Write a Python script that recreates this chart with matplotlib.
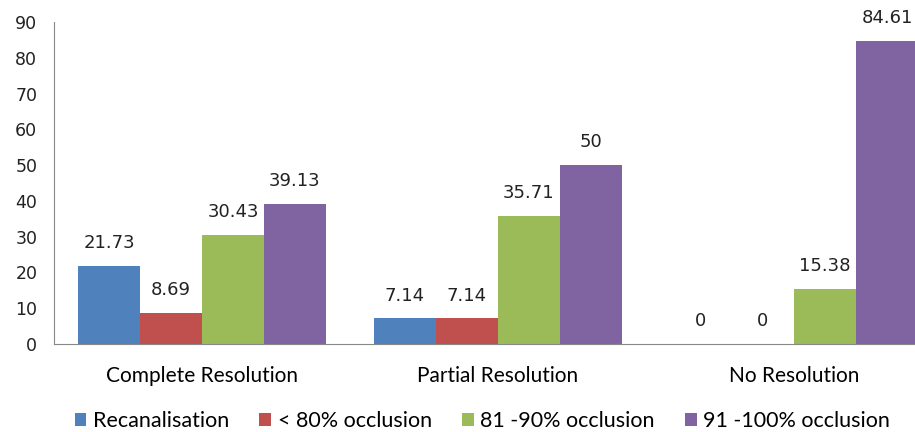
import matplotlib
matplotlib.use("Agg")
import matplotlib.pyplot as plt
import numpy as np

categories = ["Complete Resolution", "Partial Resolution", "No Resolution"]
series_names = ["Recanalisation", "< 80% occlusion", "81 -90% occlusion", "91 -100% occlusion"]
recanalisation = [21.73, 7.14, 0]
below_80 = [8.69, 7.14, 0]
occl_81_90 = [30.43, 35.71, 15.38]
occl_91_100 = [39.13, 50, 84.61]
colors = ["#4F81BD", "#C0504D", "#9BBB59", "#8064A2"]

series = [recanalisation, below_80, occl_81_90, occl_91_100]

fig = plt.figure(figsize=(9.15, 4.32), dpi=100)
# axes reaches past the right edge, as in the cropped original
ax = fig.add_axes([54 / 915, 1 - 344 / 432, 888 / 915, 322 / 432])

x = np.arange(len(categories))
width = 248 / 296 / 4
for i, (vals, name, c) in enumerate(zip(series, series_names, colors)):
    pos = x - 1.5 * width + i * width
    bars = ax.bar(pos, vals, width, color=c, label=name)
    labels = ["%g" % v for v in vals]
    ax.bar_label(bars, labels=labels, padding=10, fontsize=13,
                 family="DejaVu Sans", color="#222222")

ax.set_xlim(-0.5, 2.5)
ax.set_ylim(0, 90)
ax.set_yticks(range(0, 91, 10))
ax.set_xticks(x)
ax.set_xticklabels(categories, family="Lato", fontsize=15)
ax.tick_params(axis="x", length=0, pad=16)
ax.tick_params(axis="y", length=0, pad=12, labelsize=12.5, labelcolor="#222222")

for s in ["top", "right"]:
    ax.spines[s].set_visible(False)
ax.spines["left"].set_color("#888888")
ax.spines["bottom"].set_color("#888888")

fig.legend(loc="lower center", bbox_to_anchor=(0.527, -0.043), ncol=4,
           frameon=False, prop={"family": "Lato", "size": 15.5},
           handlelength=0.55, handleheight=0.55, handletextpad=0.3,
           columnspacing=1.4)

fig.savefig("out.png", dpi=100)
